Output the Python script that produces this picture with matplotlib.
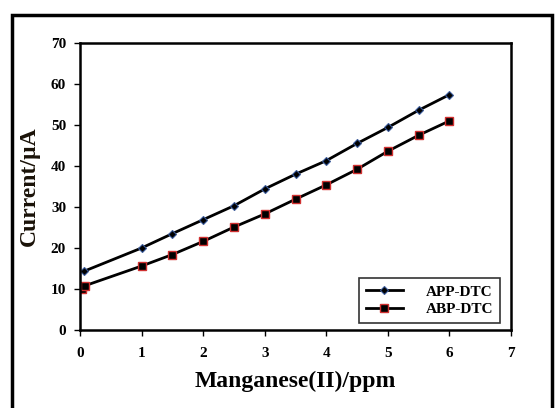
import matplotlib
matplotlib.use("Agg")
import matplotlib.pyplot as plt
from matplotlib.patches import Rectangle

# data
x_app = [0.06, 1, 1.5, 2, 2.5, 3, 3.5, 4, 4.5, 5, 5.5, 6]
y_app = [14.3, 20.0, 23.5, 26.9, 30.3, 34.4, 38.0, 41.3, 45.5, 49.4, 53.6, 57.4]

x_abp = [0.03, 0.08, 1, 1.5, 2, 2.5, 3, 3.5, 4, 4.5, 5, 5.5, 6]
y_abp = [10.0, 10.8, 15.6, 18.4, 21.6, 25.1, 28.3, 31.9, 35.4, 39.2, 43.6, 47.5, 51.0]

labels = ["APP-DTC", "ABP-DTC"]

plt.rcParams['font.family'] = ['Liberation Serif', 'DejaVu Serif']
plt.rcParams['font.weight'] = 'bold'

fig = plt.figure(figsize=(5.55, 4.08), dpi=100)
ax = fig.add_axes([80/555, 1 - 330/408, 431/555, 287/408])

ax.plot(x_app, y_app, color='black', lw=2, marker='D', ms=4,
        mfc='black', mec='#3a5a9a', mew=0.8, label=labels[0])
ax.plot(x_abp, y_abp, color='black', lw=2, marker='s', ms=6,
        mfc='black', mec='#d03030', mew=1.0, label=labels[1])

ax.set_xlim(0, 7)
ax.set_ylim(0, 70)
ax.set_xticks(range(0, 8))
ax.set_yticks(range(0, 80, 10))
ax.tick_params(direction='out', length=4, width=1, labelsize=11)
ax.tick_params(axis='x', pad=8)
ax.tick_params(axis='y', pad=6)
for s in ax.spines.values():
    s.set_linewidth(1.8)

ax.set_xlabel("Manganese(II)/ppm", fontsize=17, fontweight='bold', labelpad=8)
ax.set_ylabel("Current/µA", fontsize=17, fontweight='bold', color='#1a1208', labelpad=8)

leg = ax.legend(loc='lower right', bbox_to_anchor=(0.974, 0.024), borderaxespad=0,
                frameon=True, fancybox=False, edgecolor='black', fontsize=11,
                handlelength=2.4, borderpad=0.45, labelspacing=0.25, handletextpad=1.5)
leg.get_frame().set_linewidth(1.2)

# outer frame around the figure
fig.patches.append(Rectangle((12/555, -0.05), 540/555, 1.05 - 15/408,
                             transform=fig.transFigure, fill=False,
                             edgecolor='black', lw=2.5))

fig.savefig("out.png", dpi=100)
